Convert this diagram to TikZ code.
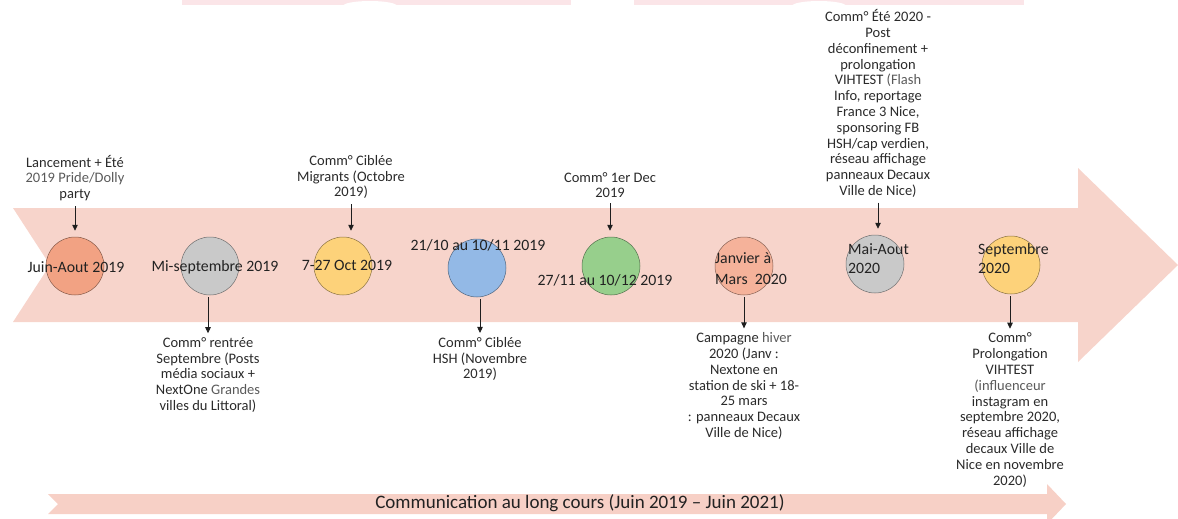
\documentclass[tikz,border=0pt]{standalone}
\usepackage{fontspec}
\setmainfont{Carlito}
\usetikzlibrary{arrows.meta}

% palette
\definecolor{band}{HTML}{F7D4CB}
\definecolor{bandlow}{HTML}{F7D0C6}
\definecolor{topbar}{HTML}{FBE5E8}
\definecolor{cOrange}{HTML}{F2A283}
\definecolor{cGrey}{HTML}{C9C9C9}
\definecolor{cGold}{HTML}{FDD27A}
\definecolor{cBlue}{HTML}{93B9E6}
\definecolor{cGreen}{HTML}{97CF8C}
\definecolor{cSalmon}{HTML}{F5B29A}
\definecolor{datecol}{HTML}{222222}
\definecolor{captdark}{HTML}{2A2A2A}
\definecolor{captlight}{HTML}{5A5A5A}
\definecolor{connc}{HTML}{1E1E1E}

\begin{document}
\begin{tikzpicture}[x=1pt,y=-1pt,
  stage/.style={circle, minimum size=58pt, inner sep=0pt,
    draw=#1!55!black, fill=#1, line width=0.5pt},
  datelbl/.style={font=\fontsize{15.8}{20}\selectfont, text=datecol, inner sep=0pt},
  capt/.style={font=\fontsize{14.5}{15.8}\selectfont, align=center, text=captdark, inner sep=0pt},
  conn/.style={draw=connc, line width=0.8pt, -{Triangle[width=5.5pt,length=6pt]}},
  longlbl/.style={font=\fontsize{19}{22}\selectfont, text=datecol, inner sep=0pt}]

\useasboundingbox (0,0) rectangle (1178,519);
\clip (0,0) rectangle (1178,519);

% faint bars along the top edge
\fill[topbar] (182,0) rectangle (571,5);
\fill[topbar] (634,0) rectangle (1024,5);
\fill[white] (370,6) ellipse [x radius=27, y radius=5];
\fill[white] (819,6) ellipse [x radius=27, y radius=5];

% main timeline arrow
\fill[band] (13,208) -- (1078,208) -- (1078,168) -- (1178,265)
  -- (1078,362) -- (1078,322) -- (13,322) -- (50,265) -- cycle;

% long-running communication arrow
\fill[bandlow] (48,494) -- (1047,494) -- (1047,484) -- (1066,504)
  -- (1047,524) -- (1047,514) -- (48,514) -- (58,504) -- cycle;
\node[longlbl] (long) at (580,503) {Communication au long cours (Juin 2019 – Juin 2021)};

% stages
\node[stage=cOrange] (c1) at (75,266) {};
\node[stage=cGrey]   (c2) at (210,266) {};
\node[stage=cGold]   (c3) at (343,266) {};
\node[stage=cBlue]   (c4) at (477,268) {};
\node[stage=cGreen]  (c5) at (611,266) {};
\node[stage=cSalmon] (c6) at (744,266) {};
\node[stage=cGrey]   (c7) at (875,264) {};
\node[stage=cGold]   (c8) at (1011,265) {};

% stage dates
\node[datelbl] (d1) at (76,267) {Juin-Aout 2019};
\node[datelbl] (d2) at (215,267) {Mi-septembre 2019};
\node[datelbl] (d3) at (347,265) {7-27 Oct 2019};
\node[datelbl] (d4) at (478,245) {21/10 au 10/11 2019};
\node[datelbl] (d5) at (605,280) {27/11 au 10/12 2019};
\node[datelbl, align=left, anchor=west, font=\fontsize{15.8}{21}\selectfont] (d6) at (715,269) {Janvier à\\Mars\ \ 2020};
\node[datelbl, align=left, anchor=west, font=\fontsize{15.8}{19}\selectfont] (d7) at (848,258.5) {Mai-Aout\\2020};
\node[datelbl, align=left, anchor=west, font=\fontsize{15.8}{19}\selectfont] (d8) at (978,259) {Septembre\\2020};

% captions above the band
\node[capt] (t1) at (75,178) {Lancement + Été\\\color{captlight}2019 Pride/Dolly\\party};
\node[capt] (t2) at (351,177) {Comm° Ciblée\\Migrants (Octobre\\2019)};
\node[capt] (t3) at (610,185) {Comm° 1er Dec\\2019};
\node[capt] (t4) at (878,103.5) {Comm° Été 2020 -\\Post\\déconfinement +\\prolongation\\VIHTEST \color{captlight}(Flash\\Info, reportage\\France 3 Nice,\\sponsoring FB\\HSH/cap verdien,\\réseau affichage\\panneaux Decaux\\Ville de Nice)};

% captions below the band
\node[capt] (b1) at (208,375) {Comm° rentrée\\Septembre (Posts\\média sociaux +\\NextOne \color{captlight}Grandes\\villes du Littoral)};
\node[capt] (b2) at (480,359) {Comm° Ciblée\\HSH (Novembre\\2019)};
\node[capt] (b3) at (744,386) {Campagne \color{captlight}hiver\\2020 (Janv :\\Nextone en\\station de ski + 18-\\25 mars\\: panneaux Decaux\\Ville de Nice)};
\node[capt] (b4) at (1010,410) {Comm°\\Prolongation\\VIHTEST\\\color{captlight}(influenceur\\instagram en\\septembre 2020,\\réseau affichage\\decaux Ville de\\Nice en novembre\\2020)};

% connectors
\draw[conn, shorten <=5pt, shorten >=6pt] (t1.south) -- (t1.south |- c1.north);
\draw[conn, shorten <=5pt, shorten >=6pt] (t2.south) -- (t2.south |- c3.north);
\draw[conn, shorten <=5pt, shorten >=6pt] (t3.south) -- (t3.south |- c5.north);
\draw[conn, shorten <=5pt, shorten >=6pt] (t4.south) -- (t4.south |- c7.north);
\draw[conn, shorten <=2pt, shorten >=4pt] (c2.south -| b1.north) -- (b1.north);
\draw[conn, shorten <=2pt, shorten >=4pt] (c4.south -| b2.north) -- (b2.north);
\draw[conn, shorten <=2pt, shorten >=4pt] (c6.south -| b3.north) -- (b3.north);
\draw[conn, shorten <=2pt, shorten >=4pt] (c8.south -| b4.north) -- (b4.north);
\end{tikzpicture}
\end{document}
